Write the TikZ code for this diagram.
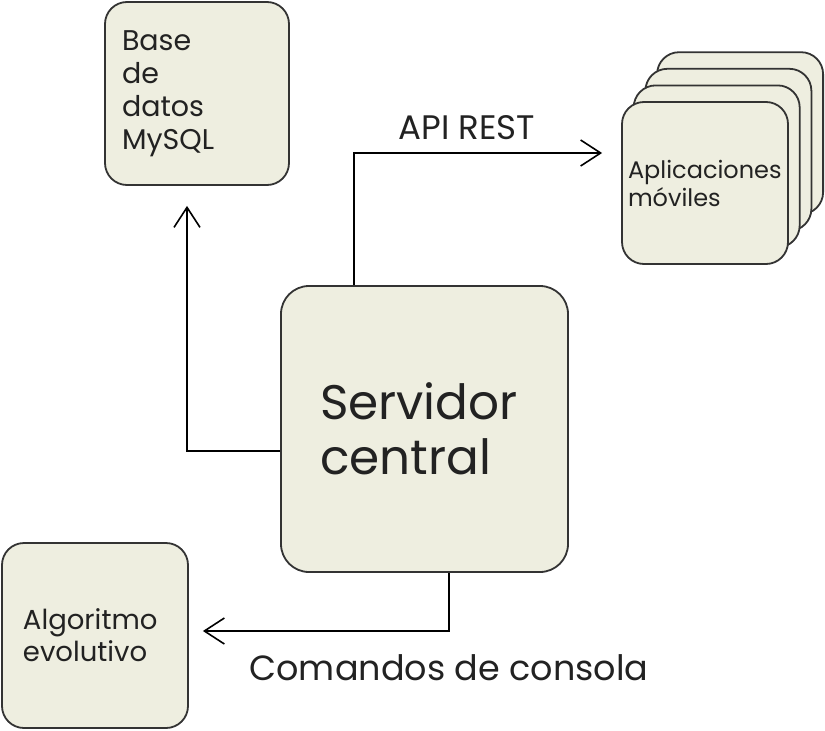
\documentclass[tikz,border=0pt]{standalone}
\usepackage{fontspec}
\setmainfont{Poppins}
\usetikzlibrary{arrows.meta}
\definecolor{boxfill}{HTML}{EEEEE0}
\definecolor{boxline}{HTML}{333333}
\definecolor{ink}{HTML}{222222}
\tikzset{
  box/.style={draw=boxline, fill=boxfill, line width=1.8pt, rounded corners=22pt,
    align=left, text=ink, inner sep=0pt},
  arr/.style={line width=1.6pt, -{Straight Barb[length=20pt,width=26pt,line width=1.6pt]}},
  lbl/.style={text=ink, inner sep=0pt}
}
\begin{document}
\begin{tikzpicture}[x=1pt,y=-1pt]
  \useasboundingbox (0,0) rectangle (825,731);

  % boxes
  \node[box, minimum width=184pt, minimum height=183pt, text width=150pt,
    font=\fontsize{28.5}{33}\selectfont] (db) at (197,93.5)
    {Base\\de\\datos\\MySQL};
  \node[box, minimum width=287pt, minimum height=286pt, text width=209pt,
    rounded corners=28pt, font=\fontsize{48.5}{55}\selectfont] (srv) at (424.5,429)
    {Servidor\\central};
  \node[box, minimum width=186pt, minimum height=185pt, text width=144pt,
    font=\fontsize{27.5}{32}\selectfont] (algo) at (95,635.5)
    {Algoritmo\\evolutivo};

  % stack of mobile apps
  \foreach \i in {3,2,1}
    \node[box, minimum width=166pt, minimum height=162pt] (apps\i)
      at (705+11.7*\i,183-16.6*\i) {};
  \node[box, minimum width=166pt, minimum height=162pt, text width=154pt,
    font=\fontsize{24}{28}\selectfont] (apps) at (705,183)
    {Aplicaciones\\móviles};

  % connectors
  \draw[arr, shorten >=20pt] ([yshift=-22pt]srv.west) -| ([xshift=-10pt]db.south);
  \draw[arr, shorten >=19pt] ([xshift=-70.5pt]srv.north) |- ([yshift=30pt]apps.west);
  \draw[arr, shorten >=14pt] ([xshift=24.5pt]srv.south) |- ([yshift=4.5pt]algo.east);

  % labels
  \node[lbl, font=\fontsize{34}{38}\selectfont] (api) at (467,128) {API REST};
  \node[lbl, font=\fontsize{35}{40}\selectfont] (cmd) at (449,668) {Comandos de consola};
\end{tikzpicture}
\end{document}
